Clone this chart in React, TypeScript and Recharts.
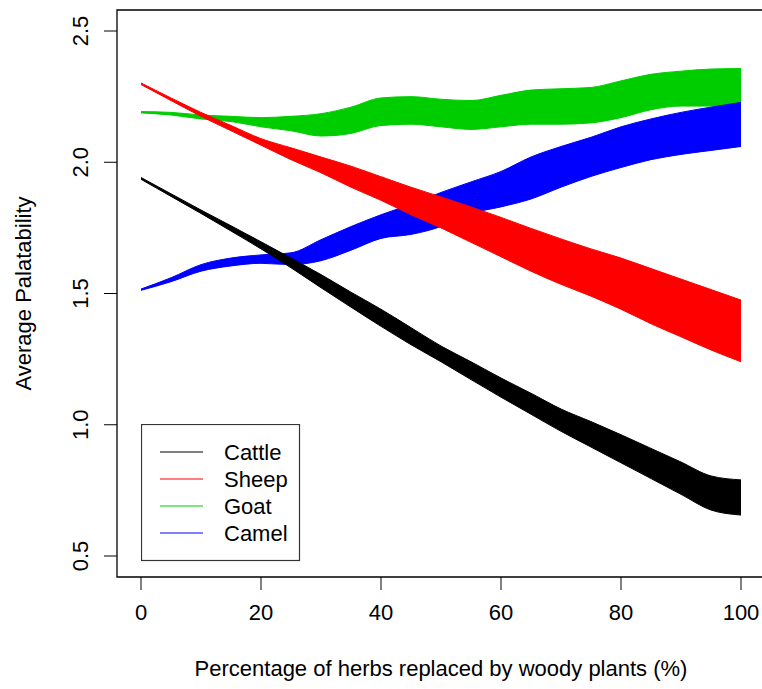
import { Area, ComposedChart, Legend, ReferenceArea, XAxis, YAxis } from "recharts";

const FONT = '"Liberation Sans", Arial, Helvetica, sans-serif';

const pctReplaced = [0, 5, 10, 15, 20, 25, 30, 35, 40, 45, 50, 55, 60, 65, 70, 75, 80, 85, 90, 95, 100];

const cattleLow = [1.935, 1.87, 1.805, 1.738, 1.67, 1.598, 1.522, 1.448, 1.375, 1.305, 1.24, 1.172, 1.105, 1.04, 0.975, 0.915, 0.855, 0.795, 0.735, 0.675, 0.656];
const cattleHigh = [1.942, 1.88, 1.818, 1.758, 1.697, 1.635, 1.572, 1.505, 1.44, 1.37, 1.3, 1.24, 1.178, 1.12, 1.06, 1.012, 0.962, 0.91, 0.858, 0.805, 0.79];

const sheepLow = [2.296, 2.235, 2.175, 2.12, 2.065, 2.01, 1.96, 1.905, 1.855, 1.8, 1.75, 1.695, 1.64, 1.585, 1.535, 1.49, 1.44, 1.385, 1.335, 1.285, 1.24];
const sheepHigh = [2.302, 2.245, 2.19, 2.14, 2.09, 2.055, 2.02, 1.985, 1.945, 1.905, 1.868, 1.83, 1.79, 1.748, 1.708, 1.67, 1.635, 1.595, 1.555, 1.515, 1.475];

const goatLow = [2.188, 2.18, 2.165, 2.155, 2.135, 2.12, 2.1, 2.11, 2.14, 2.145, 2.135, 2.125, 2.135, 2.145, 2.145, 2.15, 2.17, 2.2, 2.214, 2.214, 2.214];
const goatHigh = [2.193, 2.19, 2.18, 2.175, 2.17, 2.175, 2.185, 2.21, 2.245, 2.25, 2.24, 2.235, 2.255, 2.275, 2.28, 2.285, 2.31, 2.335, 2.347, 2.355, 2.357];

const camelLow = [1.512, 1.545, 1.585, 1.605, 1.615, 1.61, 1.625, 1.665, 1.71, 1.725, 1.755, 1.805, 1.83, 1.86, 1.905, 1.946, 1.98, 2.01, 2.03, 2.045, 2.06];
const camelHigh = [1.517, 1.56, 1.61, 1.635, 1.647, 1.655, 1.705, 1.755, 1.8, 1.84, 1.885, 1.925, 1.965, 2.02, 2.06, 2.095, 2.135, 2.165, 2.19, 2.21, 2.228];

const xTicks = [0, 20, 40, 60, 80, 100];
const yTicks = [0.5, 1.0, 1.5, 2.0, 2.5];

const species = [
  { key: "cattle", name: "Cattle", color: "#000000" },
  { key: "sheep", name: "Sheep", color: "#ff0000" },
  { key: "goat", name: "Goat", color: "#00cd00" },
  { key: "camel", name: "Camel", color: "#0000ff" }
];

// draw order: goat, camel, sheep, cattle (cattle ends up on top)
const drawOrder = ["goat", "camel", "sheep", "cattle"];

const data = pctReplaced.map((x, i) => ({
  x,
  cattle: [cattleLow[i], cattleHigh[i]],
  sheep: [sheepLow[i], sheepHigh[i]],
  goat: [goatLow[i], goatHigh[i]],
  camel: [camelLow[i], camelHigh[i]]
}));

function YTick({ x, y, payload }: any) {
  return (
    <text
      x={x}
      y={y}
      transform={`rotate(-90, ${x}, ${y})`}
      textAnchor="middle"
      fontSize={22}
      fontFamily={FONT}
      fill="#000"
    >
      {Number(payload.value).toFixed(1)}
    </text>
  );
}

function YTitle({ viewBox }: any) {
  const x = (viewBox?.x ?? 0) + 31;
  const y = (viewBox?.y ?? 10) + (viewBox?.height ?? 567) / 2;
  return (
    <text
      x={x}
      y={y}
      transform={`rotate(-90, ${x}, ${y})`}
      textAnchor="middle"
      fontSize={22}
      fontFamily={FONT}
      fill="#000"
    >
      Average Palatability
    </text>
  );
}

function XTitle({ viewBox }: any) {
  const x = (viewBox?.x ?? 117) + (viewBox?.width ?? 648) / 2;
  const y = (viewBox?.y ?? 577) + 99;
  return (
    <text x={x} y={y} textAnchor="middle" fontSize={22} fontFamily={FONT} fill="#000">
      Percentage of herbs replaced by woody plants (%)
    </text>
  );
}

function LegendBox() {
  return (
    <svg width={160} height={138} style={{ display: "block" }}>
      <rect x={0.5} y={0.5} width={158} height={136} fill="#fff" stroke="#333" strokeWidth={1.2} />
      {species.map((s, i) => {
        const rowY = 28 + i * 27;
        return (
          <g key={s.key}>
            <line x1={19} x2={62} y1={rowY} y2={rowY} stroke={s.color} strokeWidth={1.2} />
            <text x={83} y={rowY + 8} fontSize={22} fontFamily={FONT} fill="#000">
              {s.name}
            </text>
          </g>
        );
      })}
    </svg>
  );
}

export default function App() {
  return (
    <div
      style={{
        position: "absolute",
        left: 0,
        top: 0,
        width: 762,
        height: 689,
        overflow: "hidden",
        background: "#fff"
      }}
    >
      <ComposedChart
        width={780}
        height={689}
        data={data}
        margin={{ top: 10, right: 15, bottom: 0, left: 0 }}
      >
        <XAxis
          dataKey="x"
          type="number"
          domain={[-4, 104]}
          ticks={xTicks}
          allowDataOverflow
          axisLine={false}
          tickLine={{ stroke: "#000" }}
          tickSize={13}
          tickMargin={14}
          height={112}
          tick={{ fill: "#000", fontSize: 22, fontFamily: FONT }}
          label={<XTitle />}
        />
        <YAxis
          type="number"
          domain={[0.42, 2.58]}
          ticks={yTicks}
          allowDataOverflow
          axisLine={false}
          tickLine={{ stroke: "#000" }}
          tickSize={13}
          tickMargin={16}
          width={117}
          tick={<YTick />}
          label={<YTitle />}
        />
        <ReferenceArea
          x1={-4}
          x2={104}
          y1={0.42}
          y2={2.58}
          fill="none"
          stroke="#000"
          strokeWidth={1.3}
          ifOverflow="visible"
        />
        {drawOrder.map((k) => {
          const s = species.find((d) => d.key === k)!;
          return (
            <Area
              key={s.key}
              type="monotone"
              dataKey={s.key}
              name={s.name}
              stroke={s.color}
              strokeWidth={1}
              fill={s.color}
              fillOpacity={1}
              dot={false}
              activeDot={false}
              isAnimationActive={false}
            />
          );
        })}
        <Legend
          layout="vertical"
          align="center"
          verticalAlign="middle"
          content={<LegendBox />}
          wrapperStyle={{ left: 141, top: 424, width: 160, height: 138, right: "auto", bottom: "auto" }}
        />
      </ComposedChart>
    </div>
  );
}
